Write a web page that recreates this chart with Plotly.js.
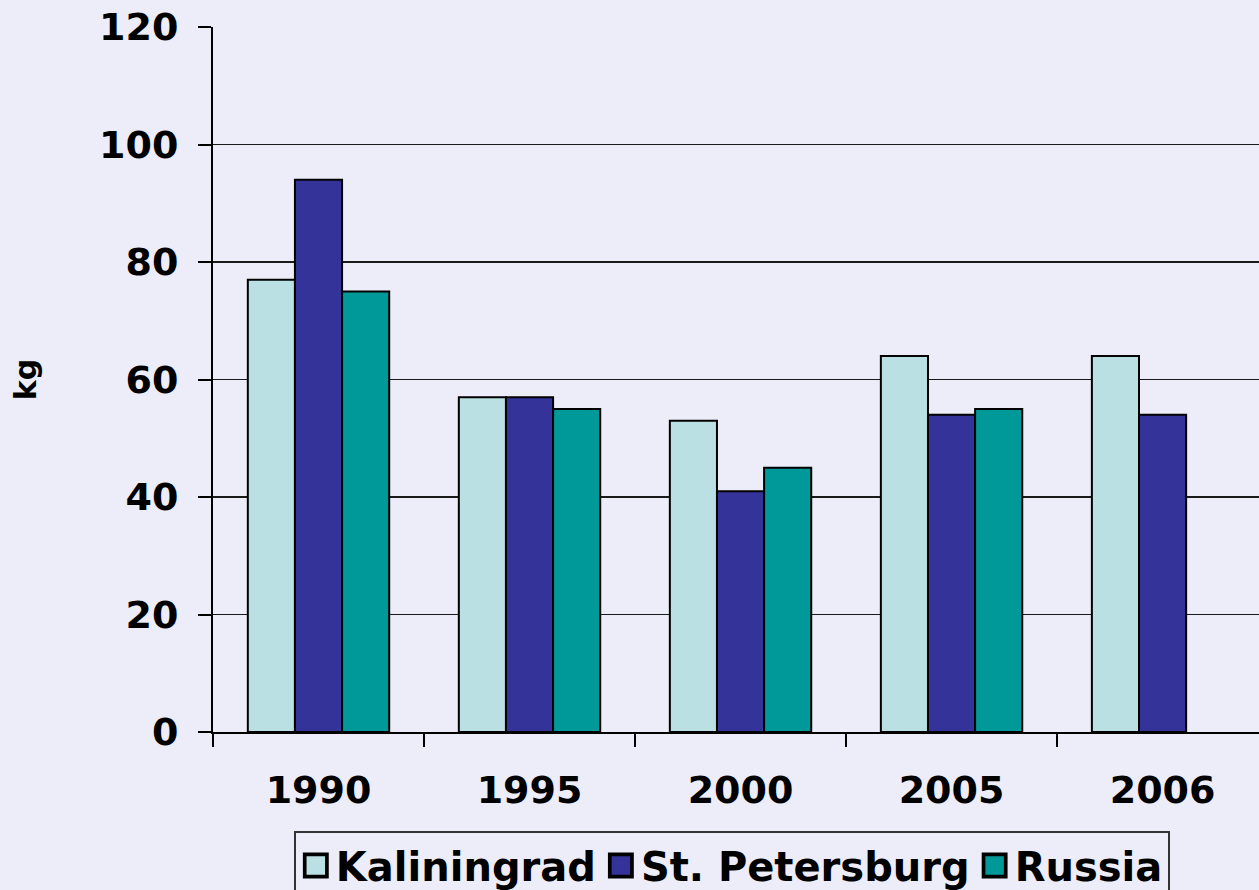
<!DOCTYPE html>
<html>
<head>
<meta charset="utf-8">
<script src="https://cdn.plot.ly/plotly-3.0.1.min.js"></script>
<style>html,body{margin:0;padding:0;background:#EDEDF9;}</style>
</head>
<body>
<div id="chart" style="width:1259px;height:890px;"></div>
<script>
const years = ['1990', '1995', '2000', '2005', '2006'];
const kaliningrad = [77, 57, 53, 64, 64];
const stPetersburg = [94, 57, 41, 54, 54];
const russia = [75, 55, 45, 55, null];
const seriesNames = ['Kaliningrad', 'St. Petersburg', 'Russia'];
const yTicks = [0, 20, 40, 60, 80, 100, 120];

const colors = ['#BBE0E3', '#333399', '#009999'];
const FONT = 'DejaVu Sans, Verdana, sans-serif';
const data = [kaliningrad, stPetersburg, russia].map((vals, i) => ({
  type: 'bar',
  x: years,
  y: vals,
  name: seriesNames[i],
  marker: {color: colors[i], line: {color: '#000', width: 2}},
  hoverinfo: 'skip'
}));

const layout = {
  width: 1259, height: 890,
  paper_bgcolor: '#EDEDF9',
  plot_bgcolor: '#EDEDF9',
  margin: {l: 213, r: 0, t: 27, b: 158, pad: 0},
  barmode: 'group',
  bargap: 0.33,
  bargroupgap: 0,
  font: {family: FONT, color: '#000'},
  xaxis: {
    type: 'category',
    categoryorder: 'array',
    categoryarray: years,
    range: [-0.5, 4.457],
    tickson: 'boundaries',
    ticks: 'outside', ticklen: 13, tickwidth: 2, tickcolor: '#000',
    showline: true, linecolor: '#000', linewidth: 2,
    showgrid: false,
    tickfont: {family: FONT, size: 38, color: '#000', weight: 'bold'},
    ticklabelstandoff: 23
  },
  yaxis: {
    range: [0, 120],
    tickvals: yTicks,
    ticktext: yTicks.map(String),
    ticks: 'outside', ticklen: 13, tickwidth: 2, tickcolor: '#000',
    showline: true, linecolor: '#000', linewidth: 2,
    showgrid: true, gridcolor: '#1a1a1a', gridwidth: 1.5,
    zeroline: false,
    tickfont: {family: FONT, size: 38, color: '#000', weight: 'bold'},
    ticklabelstandoff: 12,
    title: {text: 'kg', font: {family: FONT, size: 30, color: '#000', weight: 'bold'}, standoff: 54}
  },
  showlegend: true,
  legend: {
    orientation: 'h',
    xref: 'paper', yref: 'container',
    x: 0.496, xanchor: 'center',
    y: 0.0663, yanchor: 'top',
    bgcolor: '#EDEDF9',
    bordercolor: '#333', borderwidth: 2,
    font: {family: FONT, size: 40, color: '#000', weight: 'bold'},
    itemwidth: 30,
    traceorder: 'normal'
  }
};

Plotly.newPlot('chart', data, layout, {staticPlot: true}).then(() => {
  document.querySelectorAll('.legendpoints path').forEach(p => {
    const t = p.getAttribute('transform') || '';
    p.setAttribute('transform', t + ' scale(1.85)');
  });
});
</script>
</body>
</html>
